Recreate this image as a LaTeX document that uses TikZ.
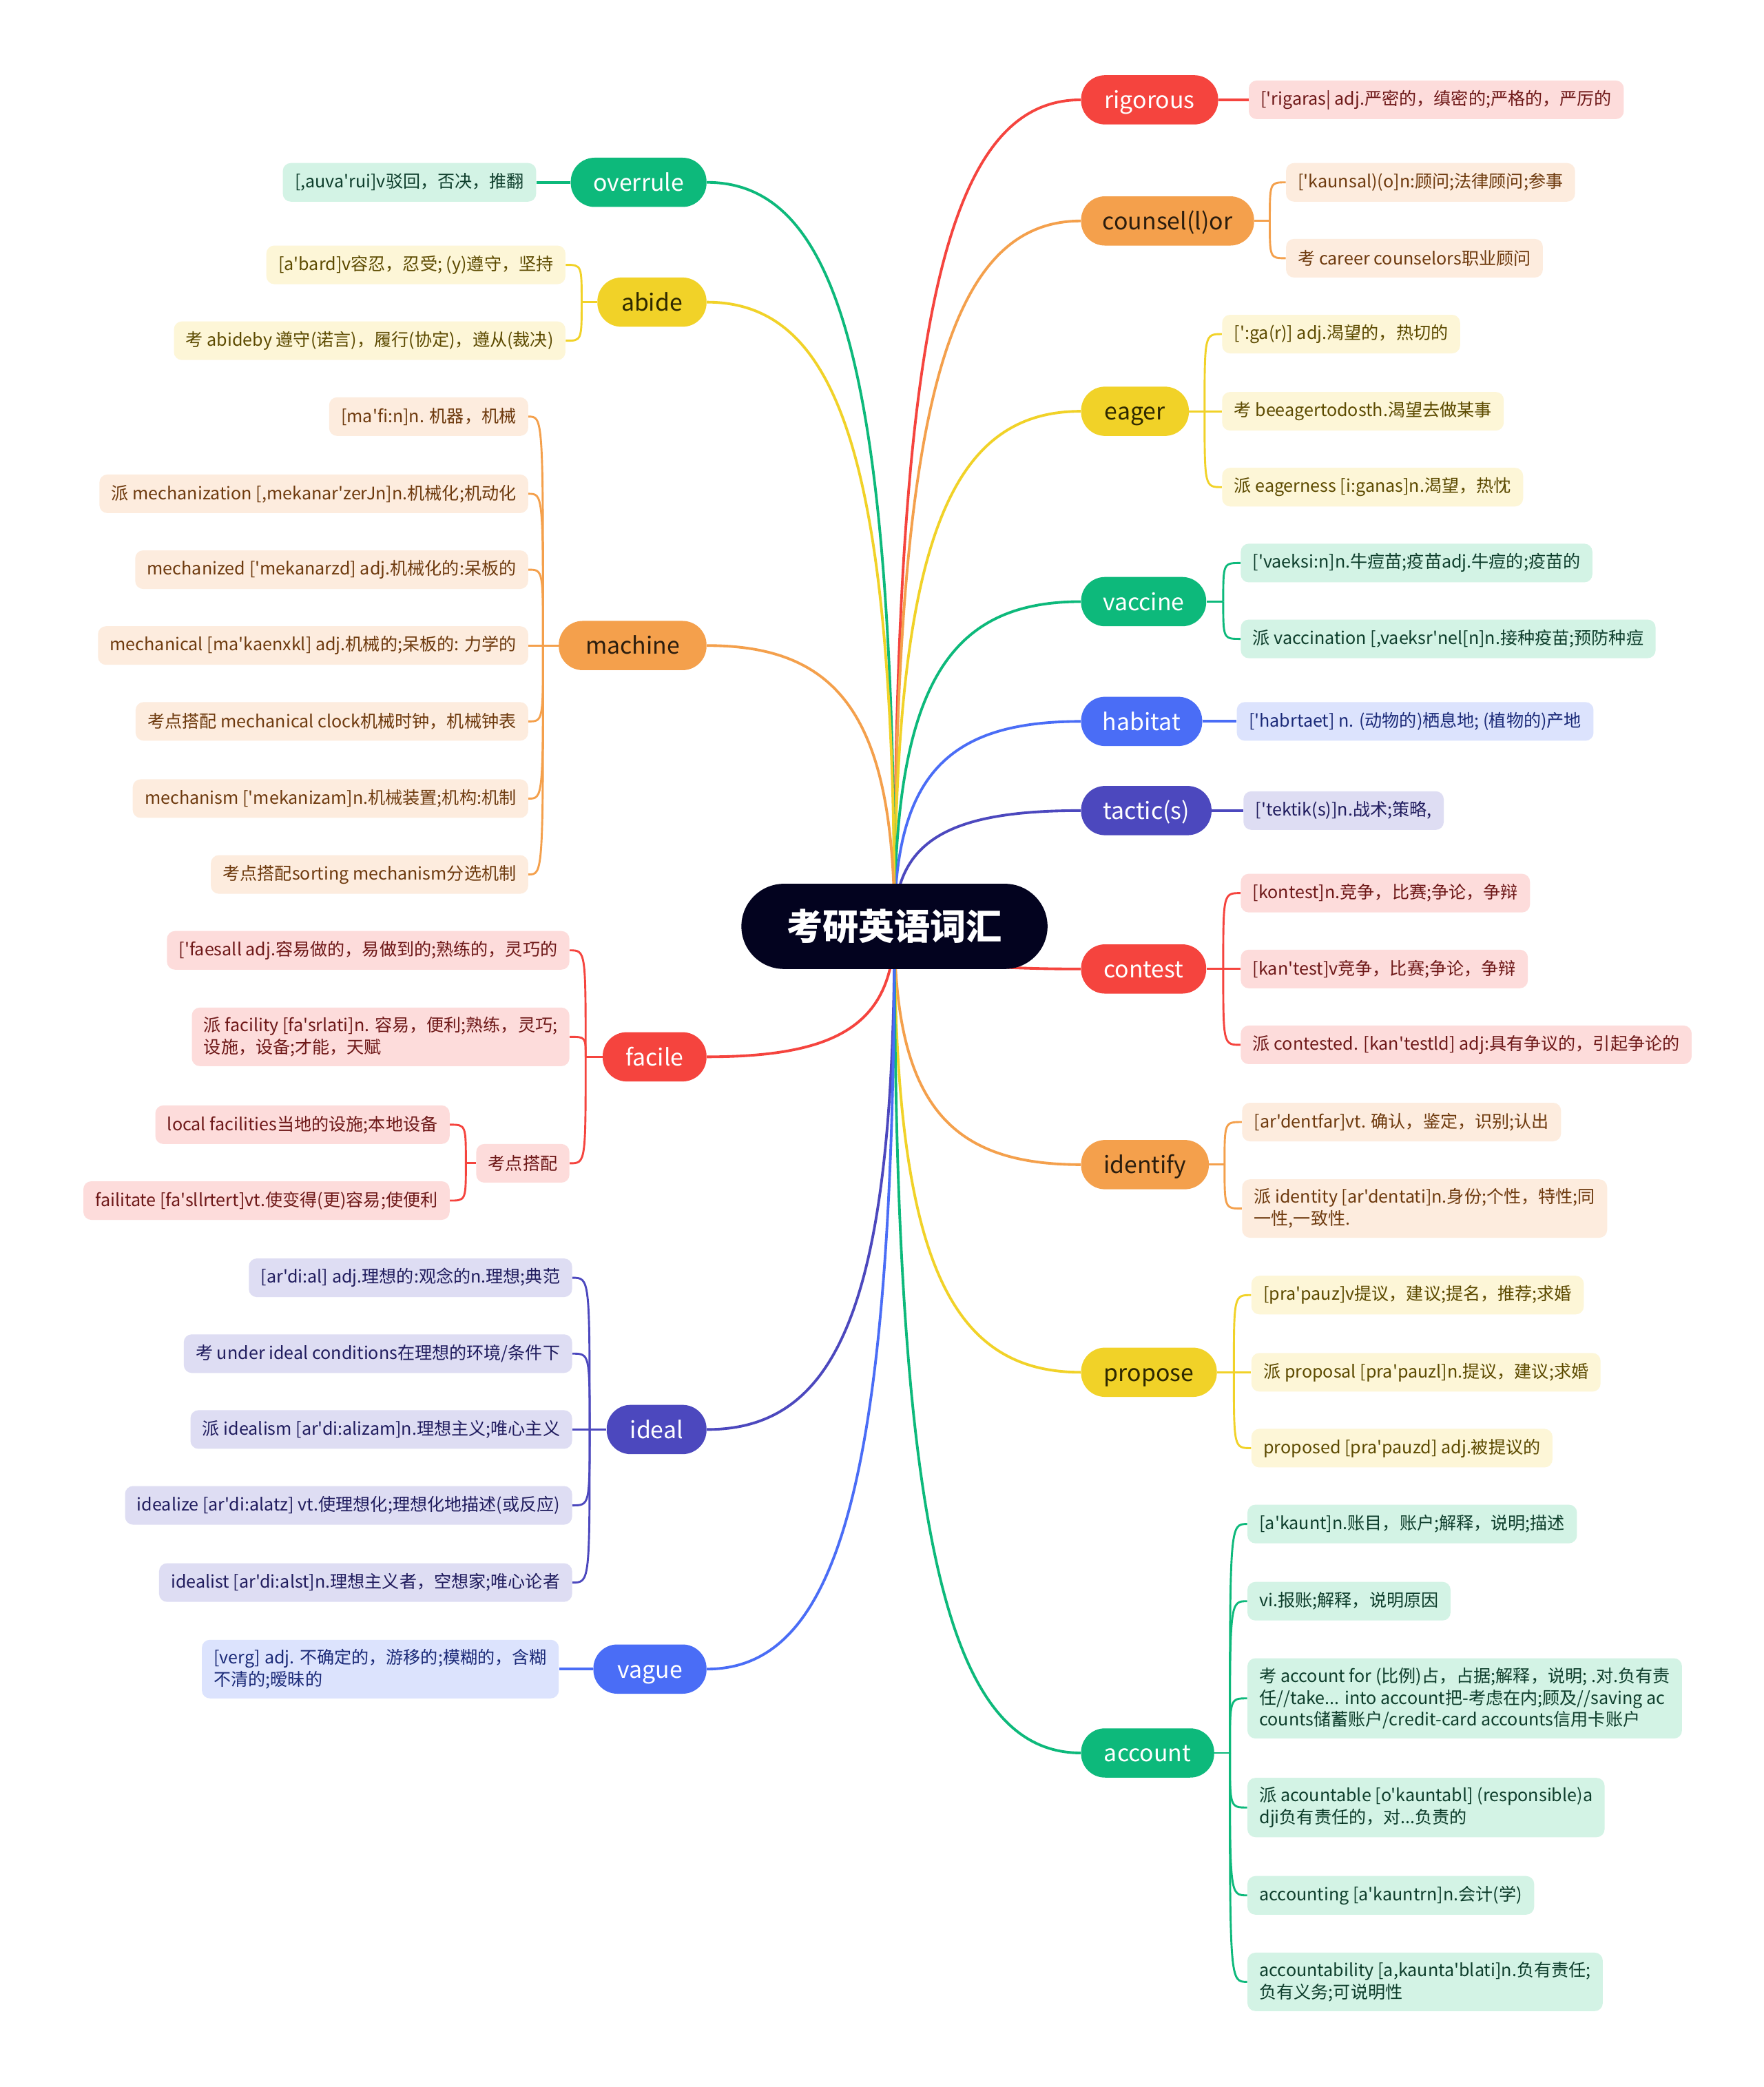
\documentclass[tikz,border=0pt]{standalone}
\usepackage{fontspec}
\setmainfont{Noto Sans CJK SC}[Ligatures=TeXOff]
\usetikzlibrary{calc}
\pgfdeclarelayer{bg}
\pgfsetlayers{bg,main}
\definecolor{rootc}{HTML}{03031F}
\definecolor{cRed}{HTML}{F5443E}
\definecolor{cOra}{HTML}{F4A04C}
\definecolor{cYel}{HTML}{F1D228}
\definecolor{cGrn}{HTML}{0DB97B}
\definecolor{cBlu}{HTML}{4A6DF6}
\definecolor{cInd}{HTML}{4C48BE}
\definecolor{lRed}{HTML}{FDDCDB}
\definecolor{lOra}{HTML}{FDECDE}
\definecolor{lYel}{HTML}{FDF6D7}
\definecolor{lGrn}{HTML}{D3F3E5}
\definecolor{lBlu}{HTML}{DCE3FD}
\definecolor{lInd}{HTML}{DEDDF3}
\definecolor{tRed}{HTML}{6E1818}
\definecolor{tOra}{HTML}{6E3A0E}
\definecolor{tYel}{HTML}{5C4A00}
\definecolor{tGrn}{HTML}{0E3E2C}
\definecolor{tBlu}{HTML}{1B2A78}
\definecolor{tInd}{HTML}{201C5E}
\definecolor{dOra}{HTML}{2B1D0E}
\definecolor{dYel}{HTML}{2E2800}
\tikzset{
  rootn/.style={fill=rootc, text=white, rounded corners=32pt, minimum width=230pt, minimum height=64pt, inner sep=0pt, font=\fontsize{27}{30}\selectfont\bfseries},
  br/.style={rounded corners=18pt, minimum height=37pt, inner xsep=0pt, inner ysep=0pt, text height=15.2pt, text depth=2pt, font=\fontsize{17.5}{20}\selectfont},
  lf/.style={rounded corners=6pt, minimum height=29pt, inner xsep=9pt, inner ysep=7pt, font=\fontsize{13}{16.5}\selectfont, align=left},
  bline/.style={line width=2pt},
  lline/.style={line width=1.5pt},
}
\newcommand\brR[2]{\draw[bline,#1] (root.center) .. controls ($(root.center)!0.75!(root.center |- #2.west)$) and ($(#2.west)!0.7!(#2.west -| root.center)$) .. (#2.west);}
\newcommand\brL[2]{\draw[bline,#1] (root.center) .. controls ($(root.center)!0.75!(root.center |- #2.east)$) and ($(#2.east)!0.7!(#2.east -| root.center)$) .. (#2.east);}
\newcommand\lfR[3]{\draw[lline,#1] (#2) .. controls (#2 |- #3.west) .. (#3.west);}
\newcommand\lfL[3]{\draw[lline,#1] (#2) .. controls (#2 |- #3.east) .. (#3.east);}
\begin{document}
\begin{tikzpicture}[x=1pt,y=-1pt]
\useasboundingbox (0,0) rectangle (1325,1568);

\node[rootn] (root) at (672,696) {考研英语词汇};

% right branches
\node[br, fill=cRed, text=white, minimum width=103pt, anchor=west] (rig) at (812,75) {rigorous};
\node[br, fill=cOra, text=dOra, minimum width=130pt, anchor=west] (cn) at (812,166) {counsel(l)or};
\node[br, fill=cYel, text=dYel, minimum width=81pt, anchor=west] (eg) at (812,309) {eager};
\node[br, fill=cGrn, text=white, minimum width=94pt, anchor=west] (vc) at (812,452) {vaccine};
\node[br, fill=cBlu, text=white, minimum width=91pt, anchor=west] (hb) at (812,542) {habitat};
\node[br, fill=cInd, text=white, minimum width=98pt, anchor=west] (tc) at (812,609) {tactic(s)};
\node[br, fill=cRed, text=white, minimum width=94pt, anchor=west] (ct) at (812,728) {contest};
\node[br, fill=cOra, text=dOra, minimum width=96pt, anchor=west] (idf) at (812,875) {identify};
\node[br, fill=cYel, text=dYel, minimum width=102pt, anchor=west] (pp) at (812,1031) {propose};
\node[br, fill=cGrn, text=white, minimum width=100pt, anchor=west] (ac) at (812,1317) {account};

% left branches
\node[br, fill=cGrn, text=white, minimum width=102pt, anchor=east] (ov) at (531,137) {overrule};
\node[br, fill=cYel, text=dYel, minimum width=82pt, anchor=east] (ab) at (531,227) {abide};
\node[br, fill=cOra, text=dOra, minimum width=111pt, anchor=east] (mc) at (531,485) {machine};
\node[br, fill=cRed, text=white, minimum width=78pt, anchor=east] (fc) at (531,794) {facile};
\node[br, fill=cInd, text=white, minimum width=75pt, anchor=east] (il) at (531,1074) {ideal};
\node[br, fill=cBlu, text=white, minimum width=85pt, anchor=east] (vg) at (531,1254) {vague};

% right leaves
\node[lf, fill=lRed, text=tRed, anchor=west] (rig1) at (938,75) {['rigaras| adj.严密的，缜密的;严格的，严厉的};
\node[lf, fill=lOra, text=tOra, anchor=west] (cn1) at (966,137) {['kaunsal)(o]n:顾问;法律顾问;参事};
\node[lf, fill=lOra, text=tOra, anchor=west] (cn2) at (966,194) {考 career counselors职业顾问};
\node[lf, fill=lYel, text=tYel, anchor=west] (eg1) at (918,251) {[':ga(r)] adj.渴望的，热切的};
\node[lf, fill=lYel, text=tYel, anchor=west] (eg2) at (918,309) {考 beeagertodosth.渴望去做某事};
\node[lf, fill=lYel, text=tYel, anchor=west] (eg3) at (918,366) {派 eagerness [i:ganas]n.渴望，热忱};
\node[lf, fill=lGrn, text=tGrn, anchor=west] (vc1) at (932,423) {['vaeksi:n]n.牛痘苗;疫苗adj.牛痘的;疫苗的};
\node[lf, fill=lGrn, text=tGrn, anchor=west] (vc2) at (932,480) {派 vaccination [,vaeksr'nel[n]n.接种疫苗;预防种痘};
\node[lf, fill=lBlu, text=tBlu, anchor=west] (hb1) at (929,542) {['habrtaet] n. (动物的)栖息地; (植物的)产地};
\node[lf, fill=lInd, text=tInd, anchor=west] (tc1) at (934,609) {['tektik(s)]n.战术;策略,};
\node[lf, fill=lRed, text=tRed, anchor=west] (ct1) at (932,671) {[kontest]n.竞争，比赛;争论，争辩};
\node[lf, fill=lRed, text=tRed, anchor=west] (ct2) at (932,728) {[kan'test]v竞争，比赛;争论，争辩};
\node[lf, fill=lRed, text=tRed, anchor=west] (ct3) at (932,785) {派 contested. [kan'testld] adj:具有争议的，引起争论的};
\node[lf, fill=lOra, text=tOra, anchor=west] (id1) at (933,843) {[ar'dentfar]vt. 确认，鉴定，识别;认出};
\node[lf, fill=lOra, text=tOra, anchor=west] (id2) at (933,908) {派 identity [ar'dentati]n.身份;个性，特性;同\\一性,一致性.};
\node[lf, fill=lYel, text=tYel, anchor=west] (pp1) at (940,973) {[pra'pauz]v提议，建议;提名，推荐;求婚};
\node[lf, fill=lYel, text=tYel, anchor=west] (pp2) at (940,1031) {派 proposal [pra'pauzl]n.提议，建议;求婚};
\node[lf, fill=lYel, text=tYel, anchor=west] (pp3) at (940,1088) {proposed [pra'pauzd] adj.被提议的};
\node[lf, fill=lGrn, text=tGrn, anchor=west] (ac1) at (937,1145) {[a'kaunt]n.账目，账户;解释，说明;描述};
\node[lf, fill=lGrn, text=tGrn, anchor=west] (ac2) at (937,1203) {vi.报账;解释，说明原因};
\node[lf, fill=lGrn, text=tGrn, anchor=west] (ac3) at (937,1276) {考 account for (比例)占，占据;解释，说明; .对.负有责\\任//take... into account把-考虑在内;顾及//saving ac\\counts储蓄账户/credit-card accounts信用卡账户};
\node[lf, fill=lGrn, text=tGrn, anchor=west] (ac4) at (937,1358) {派 acountable [o'kauntabl] (responsible)a\\dji负有责任的，对...负责的};
\node[lf, fill=lGrn, text=tGrn, anchor=west] (ac5) at (937,1424) {accounting [a'kauntrn]n.会计(学)};
\node[lf, fill=lGrn, text=tGrn, anchor=west] (ac6) at (937,1489) {accountability [a,kaunta'blati]n.负有责任;\\负有义务;可说明性};

% left leaves
\node[lf, fill=lGrn, text=tGrn, anchor=east] (ov1) at (403,137) {[,auva'rui]v驳回，否决，推翻};
\node[lf, fill=lYel, text=tYel, anchor=east] (ab1) at (425,199) {[a'bard]v容忍，忍受; (y)遵守，坚持};
\node[lf, fill=lYel, text=tYel, anchor=east] (ab2) at (425,256) {考 abideby 遵守(诺言)，履行(协定)，遵从(裁决)};
\node[lf, fill=lOra, text=tOra, anchor=east] (mc1) at (397,313) {[ma'fi:n]n. 机器，机械};
\node[lf, fill=lOra, text=tOra, anchor=east] (mc2) at (397,371) {派 mechanization [,mekanar'zerJn]n.机械化;机动化};
\node[lf, fill=lOra, text=tOra, anchor=east] (mc3) at (397,428) {mechanized ['mekanarzd] adj.机械化的:呆板的};
\node[lf, fill=lOra, text=tOra, anchor=east] (mc4) at (397,485) {mechanical [ma'kaenxkl] adj.机械的;呆板的: 力学的};
\node[lf, fill=lOra, text=tOra, anchor=east] (mc5) at (397,542) {考点搭配 mechanical clock机械时钟，机械钟表};
\node[lf, fill=lOra, text=tOra, anchor=east] (mc6) at (397,600) {mechanism ['mekanizam]n.机械装置;机构:机制};
\node[lf, fill=lOra, text=tOra, anchor=east] (mc7) at (397,657) {考点搭配sorting mechanism分选机制};
\node[lf, fill=lRed, text=tRed, anchor=east] (fc1) at (428,714) {['faesall adj.容易做的，易做到的;熟练的，灵巧的};
\node[lf, fill=lRed, text=tRed, anchor=east] (fc2) at (428,779) {派 facility [fa'srlati]n. 容易，便利;熟练，灵巧;\\设施，设备;才能，天赋};
\node[lf, fill=lRed, text=tRed, anchor=east] (kd) at (428,874) {考点搭配};
\node[lf, fill=lRed, text=tRed, anchor=east] (kd1) at (338,845) {local facilities当地的设施;本地设备};
\node[lf, fill=lRed, text=tRed, anchor=east] (kd2) at (338,902) {failitate [fa'sllrtert]vt.使变得(更)容易;使便利};
\node[lf, fill=lInd, text=tInd, anchor=east] (il1) at (430,960) {[ar'di:al] adj.理想的:观念的n.理想;典范};
\node[lf, fill=lInd, text=tInd, anchor=east] (il2) at (430,1017) {考 under ideal conditions在理想的环境/条件下};
\node[lf, fill=lInd, text=tInd, anchor=east] (il3) at (430,1074) {派 idealism [ar'di:alizam]n.理想主义;唯心主义};
\node[lf, fill=lInd, text=tInd, anchor=east] (il4) at (430,1131) {idealize [ar'di:alatz] vt.使理想化;理想化地描述(或反应)};
\node[lf, fill=lInd, text=tInd, anchor=east] (il5) at (430,1189) {idealist [ar'di:alst]n.理想主义者，空想家;唯心论者};
\node[lf, fill=lBlu, text=tBlu, anchor=east] (vg1) at (420,1254) {[verg] adj. 不确定的，游移的;模糊的，含糊\\不清的;暧昧的};

% spine points
\coordinate (scn) at (954,166);
\coordinate (seg) at (905,309);
\coordinate (svc) at (919,452);
\coordinate (sct) at (919,728);
\coordinate (sid) at (920,875);
\coordinate (spp) at (927,1031);
\coordinate (sac) at (924,1317);
\coordinate (sab) at (437,227);
\coordinate (smc) at (408,485);
\coordinate (sfc) at (440,794);
\coordinate (skd) at (350,874);
\coordinate (sil) at (443,1074);

\begin{pgfonlayer}{bg}
\fill[white] (0,0) rectangle (1325,1568);
% root to branches
\brR{cRed}{rig} \brR{cOra}{cn} \brR{cYel}{eg} \brR{cGrn}{vc} \brR{cBlu}{hb}
\brR{cInd}{tc} \brR{cRed}{ct} \brR{cOra}{idf} \brR{cYel}{pp} \brR{cGrn}{ac}
\brL{cGrn}{ov} \brL{cYel}{ab} \brL{cOra}{mc} \brL{cRed}{fc} \brL{cInd}{il} \brL{cBlu}{vg}
% single leaves
\draw[bline,cRed] (rig.east) -- (rig1.west);
\draw[bline,cBlu] (hb.east) -- (hb1.west);
\draw[bline,cInd] (tc.east) -- (tc1.west);
\draw[bline,cGrn] (ov.west) -- (ov1.east);
\draw[bline,cBlu] (vg.west) -- (vg1.east);
% grouped leaves right
\draw[lline,cOra] (cn.east) -- (scn); \lfR{cOra}{scn}{cn1} \lfR{cOra}{scn}{cn2}
\draw[lline,cYel] (eg.east) -- (seg); \lfR{cYel}{seg}{eg1} \lfR{cYel}{seg}{eg2} \lfR{cYel}{seg}{eg3}
\draw[lline,cGrn] (vc.east) -- (svc); \lfR{cGrn}{svc}{vc1} \lfR{cGrn}{svc}{vc2}
\draw[lline,cRed] (ct.east) -- (sct); \lfR{cRed}{sct}{ct1} \lfR{cRed}{sct}{ct2} \lfR{cRed}{sct}{ct3}
\draw[lline,cOra] (idf.east) -- (sid); \lfR{cOra}{sid}{id1} \lfR{cOra}{sid}{id2}
\draw[lline,cYel] (pp.east) -- (spp); \lfR{cYel}{spp}{pp1} \lfR{cYel}{spp}{pp2} \lfR{cYel}{spp}{pp3}
\draw[lline,cGrn] (ac.east) -- (sac); \lfR{cGrn}{sac}{ac1} \lfR{cGrn}{sac}{ac2} \lfR{cGrn}{sac}{ac3}
\lfR{cGrn}{sac}{ac4} \lfR{cGrn}{sac}{ac5} \lfR{cGrn}{sac}{ac6}
% grouped leaves left
\draw[lline,cYel] (ab.west) -- (sab); \lfL{cYel}{sab}{ab1} \lfL{cYel}{sab}{ab2}
\draw[lline,cOra] (mc.west) -- (smc); \lfL{cOra}{smc}{mc1} \lfL{cOra}{smc}{mc2} \lfL{cOra}{smc}{mc3}
\lfL{cOra}{smc}{mc4} \lfL{cOra}{smc}{mc5} \lfL{cOra}{smc}{mc6} \lfL{cOra}{smc}{mc7}
\draw[lline,cRed] (fc.west) -- (sfc); \lfL{cRed}{sfc}{fc1} \lfL{cRed}{sfc}{fc2} \lfL{cRed}{sfc}{kd}
\draw[lline,cRed] (kd.west) -- (skd); \lfL{cRed}{skd}{kd1} \lfL{cRed}{skd}{kd2}
\draw[lline,cInd] (il.west) -- (sil); \lfL{cInd}{sil}{il1} \lfL{cInd}{sil}{il2} \lfL{cInd}{sil}{il3}
\lfL{cInd}{sil}{il4} \lfL{cInd}{sil}{il5}
\end{pgfonlayer}
\end{tikzpicture}
\end{document}
